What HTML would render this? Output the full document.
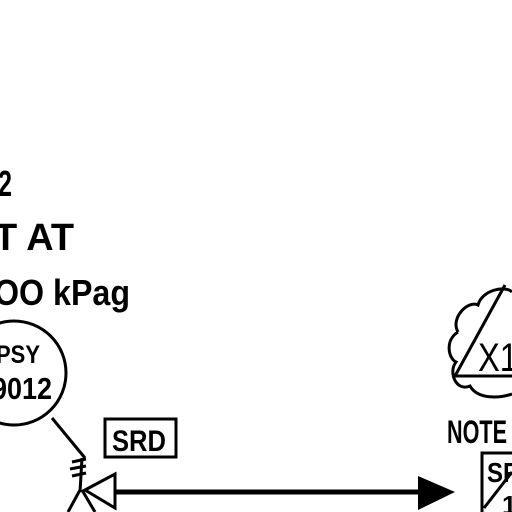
<!DOCTYPE html><html><head><style>body{margin:0;background:#fff}svg{display:block}</style></head><body>
<svg width="512" height="512" viewBox="0 0 512 512" xmlns="http://www.w3.org/2000/svg">
<g font-family="Liberation Sans, sans-serif" fill="#000" font-weight="bold">
<text x="-2" y="196" font-size="36" textLength="14" lengthAdjust="spacingAndGlyphs">2</text>
<text x="-6" y="250" font-size="38" textLength="80" lengthAdjust="spacingAndGlyphs">T AT</text>
<text x="-6" y="305" font-size="36" textLength="136" lengthAdjust="spacingAndGlyphs">OO kPag</text>
</g>
<g fill="none" stroke="#000" stroke-width="3">
<circle cx="14" cy="373" r="52"/>
<line x1="52" y1="418" x2="85" y2="458"/>
<line x1="82" y1="458" x2="80" y2="492"/>
<path d="M72 462 L86 459 M70 469 L86 466 M72 476 L86 473"/>
<path d="M80 490 L68 512 M82 490 L95 512"/>
<path d="M85 490 L115 474 L115 508 Z"/>
<rect x="105" y="419" width="71" height="38"/>
<path d="M458 332 C450 318 468 300 478 305 C482 290 505 285 512 292 M458 332 C445 340 448 358 456 362 C448 372 456 392 470 386 C478 400 500 398 512 394"/>
<path d="M455 376 L512 376 M455 376 L505 285"/>
<rect x="482" y="453" width="40" height="70"/>
<line x1="484" y1="508" x2="512" y2="472"/>
</g>
<line x1="115" y1="492" x2="422" y2="492" stroke="#000" stroke-width="5"/>
<path d="M418 476 L455 492 L418 510 Z" fill="#000"/>
<g font-family="Liberation Sans, sans-serif" font-weight="bold" fill="#000">
<text x="-4" y="363" font-size="25" textLength="44" lengthAdjust="spacingAndGlyphs">PSY</text>
<text x="-8" y="399" font-size="31" textLength="60" lengthAdjust="spacingAndGlyphs">9012</text>
<text x="112" y="451" font-size="30" textLength="54" lengthAdjust="spacingAndGlyphs">SRD</text>
<text x="478" y="371" font-size="40" font-weight="normal" textLength="40" lengthAdjust="spacingAndGlyphs">X1</text>
<text x="447" y="443" font-size="32" textLength="60" lengthAdjust="spacingAndGlyphs">NOTE</text>
<text x="487" y="482" font-size="28" textLength="32" lengthAdjust="spacingAndGlyphs">SP</text>
<text x="502" y="514" font-size="26">1</text>
</g>
</svg>
</body></html>
